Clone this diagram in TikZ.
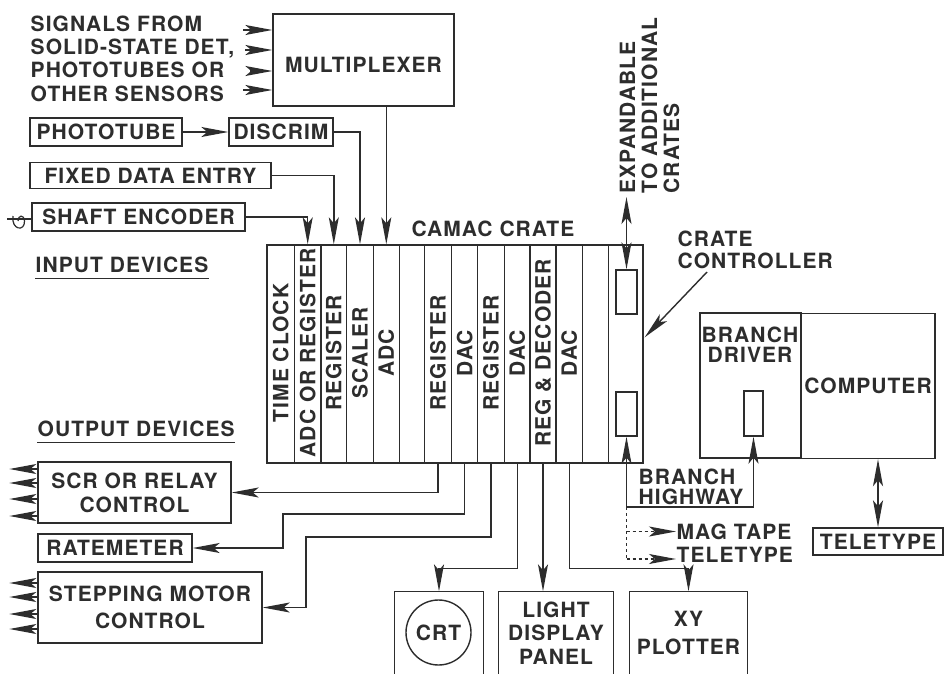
\documentclass[tikz,border=0pt]{standalone}
\usepackage{fontspec}
\setmainfont{TeX Gyre Heros}[LetterSpace=5,UprightFont=*-Bold,BoldFont=*-Bold]
\usetikzlibrary{arrows.meta,calc}
\definecolor{ink}{RGB}{45,45,45}
\newcommand\dfont{\fontsize{21}{23.5}\selectfont}
\newcommand\dfontb{\fontsize{21}{22}\selectfont}
\newcommand\dfontc{\fontsize{21}{20}\selectfont}
\newcommand\dfontd{\fontsize{21}{28}\selectfont}
\begin{document}
\begin{tikzpicture}[x=1pt,y=-1pt,color=ink,line width=1.4pt,
  lbl/.style={inner sep=0pt,font=\dfont},
  box/.style={draw,inner sep=0pt,font=\dfont},
  openbox/.style={inner sep=0pt,font=\dfont},
  arr/.style={-{Stealth[length=27pt,width=10pt,inset=6pt]}},
  dbl/.style={{Stealth[length=27pt,width=10pt,inset=6pt]}-{Stealth[length=27pt,width=10pt,inset=6pt]}},
  darr/.style={-{Stealth[length=27pt,width=10pt,inset=6pt]},dash pattern=on 3pt off 3pt}]
\useasboundingbox (0,0) rectangle (950,674);
\fill[white] (0,0) rectangle (950,674);

% ---- inputs
\node[lbl,anchor=north west,align=left,font=\fontsize{21}{23.3}\selectfont] (sig) at (30,15)
  {SIGNALS FROM\\SOLID-STATE DET,\\PHOTOTUBES OR\\OTHER SENSORS};
\node[box,minimum width=181pt,minimum height=92pt,text height=25pt,text depth=0pt] (mux) at (363.5,60) {MULTIPLEXER};
\foreach \y/\xs in {30/243,50/245,71/250,90/243}
  \draw[arr] (\xs,\y) -- (mux.west |- \xs,\y);

\node[box,minimum width=152pt,minimum height=28pt] (photo) at (106,132) {PHOTOTUBE};
\node[box,minimum width=104pt,minimum height=28pt] (discrim) at (281,132) {DISCRIM};
\node[box,minimum width=241pt,minimum height=26pt] (fixed) at (150.5,175.5) {FIXED DATA ENTRY};
\node[box,minimum width=213pt,minimum height=28pt] (shaft) at (138.5,217) {SHAFT ENCODER};
\draw[arr] (photo.east) -- (discrim.west);
\draw ([yshift=-2pt]shaft.west) -- ++(-24,0);
\draw[line width=1.2pt] (13,216) .. controls (11,230) and (25,232) .. (24.5,221) .. controls (24,214) and (18,215) .. (18,221);

\node[lbl,anchor=north west] (inp) at (35,256) {INPUT DEVICES};
\draw ([yshift=-5pt]inp.south west) -- ([yshift=-5pt]inp.south east);

% ---- crate
\node[box,minimum width=376pt,minimum height=218pt] (crate) at (455,354) {};
\node[lbl] (camac) at (493,228.5) {CAMAC CRATE};
\foreach \x in {294.3,321,346.7,373.3,399.3,424.3,451.7,477.7,504.3,530,556,582.3,608.3}
  \draw (\x,245) -- (\x,463);
\foreach \x/\t/\n in {280.7/TIME CLOCK/s1,307.7/ADC OR REGISTER/s2,333.8/REGISTER/s3,
  360/SCALER/s4,386.3/ADC/s5,438/REGISTER/s7,464.7/DAC/s8,491/REGISTER/s9,
  517.2/DAC/s10,543/REG \& DECODER/s11,569.2/DAC/s12}
  \node[lbl,rotate=90] (\n) at (\x,353) {\t};
\node[box,minimum width=21pt,minimum height=44pt] (cc1) at (626.5,292) {};
\node[box,minimum width=21pt,minimum height=44pt] (cc2) at (626.5,414) {};

\draw[arr] (discrim.east) -| (s4 |- crate.north);
\draw[arr] (fixed.east) -| (s3 |- crate.north);
\draw[arr] (shaft.east) -| (s2 |- crate.north);
\draw[arr] (mux.south -| s5) -- (s5 |- crate.north);

% expandable
\node[lbl,rotate=90,anchor=north west,align=left,font=\dfontb] (exptxt) at (619,194)
  {EXPANDABLE\\TO ADDITIONAL\\CRATES};
\coordinate (exptop) at (626.5,197);
\draw[dbl] (exptop) -- (cc1.north);

% crate controller
\node[lbl,anchor=north west,align=left,font=\dfontb] (ctltxt) at (677,230) {CRATE\\CONTROLLER};
\coordinate (ctlp) at (707,272);
\draw[arr] (ctlp) -- ([yshift=-93pt,xshift=1pt]crate.north east);

% branch driver / computer
\node[box,minimum width=101pt,minimum height=145pt] (bd) at (750.5,385.5) {};
\node[box,minimum width=134pt,minimum height=145pt] (comp) at (868,386) {COMPUTER};
\node[lbl,anchor=north,align=center,font=\dfontc] (bdtxt) at (750,326) {BRANCH\\DRIVER};
\node[box,minimum width=19pt,minimum height=45pt] (bdr) at (753.5,413.5) {};

\coordinate (bh) at (626.5,507);
\draw[dbl] (cc2.south) -- (bh) -| (bdr.south);
\node[lbl,anchor=north west,align=left,font=\dfontc] (bhtxt) at (638,468) {BRANCH\\HIGHWAY};

\node[lbl,anchor=west] (mag) at (676,531.5) {MAG TAPE};
\node[lbl,anchor=west] (tty2) at (676,555) {TELETYPE};
\coordinate (dd) at (626.5,559);
\draw[dash pattern=on 3pt off 3pt] (bh) -- (dd);
\draw[darr] (bh |- mag.west) -- (mag.west);
\draw[darr] (dd) -- (dd -| tty2.west);

\node[box,minimum width=130pt,minimum height=27pt] (tty) at (878,541.5) {TELETYPE};
\draw[dbl] (comp.south -| tty.north) -- (tty.north);

% ---- outputs
\node[lbl,anchor=north west] (out) at (37,420) {OUTPUT DEVICES};
\draw ([yshift=-5pt]out.south west) -- ([yshift=-5pt]out.south east);

\node[box,minimum width=193pt,minimum height=61pt,align=center,font=\fontsize{21}{24}\selectfont] (scr) at (134.5,492.5) {SCR OR RELAY\\CONTROL};
\foreach \d in {23.5,9.5,-6.5,-23.5}
  \draw[arr] ([yshift=\d pt]scr.west) -- ++(-28,0);
\node[box,minimum width=154pt,minimum height=28pt] (rate) at (115,548) {RATEMETER};
\node[box,minimum width=224pt,minimum height=71pt,align=center,font=\fontsize{21}{27}\selectfont] (step) at (150,607.5) {STEPPING MOTOR\\CONTROL};
\foreach \d in {24.5,10.5,-6.5,-21.5}
  \draw[arr] ([yshift=\d pt]step.west) -- ++(-28,0);

\node[openbox,minimum width=88pt,minimum height=82pt] (crt) at (439,633) {};
\node[openbox,minimum width=114pt,minimum height=82pt,align=center] (light) at (556,633) {LIGHT\\DISPLAY\\PANEL};
\node[openbox,minimum width=117pt,minimum height=82pt,align=center,font=\dfontd] (xy) at (688.5,633) {XY\\PLOTTER};
\foreach \n in {crt,light,xy}
  \draw (\n.south west) -- (\n.north west) -- (\n.north east) -- (\n.south east);
\node[draw,circle,minimum size=65pt,inner sep=0pt,font=\dfont] (crtc) at (438.5,632.5) {CRT};

\draw[arr] (s7 |- crate.south) |- (scr.east);
\draw[arr] (s8 |- crate.south) |- (283,514) |- (rate.east);
\draw[arr] (s9 |- crate.south) |- (306,537) |- (step.east);
\draw[arr] (s10 |- crate.south) |- ($(crt.north)+(0,-23)$) -- (crt.north);
\draw[arr] (s11 |- crate.south) -- (s11 |- light.north);
\draw[arr] (s12 |- crate.south) |- ($(xy.north)+(0,-23)$) -- (xy.north);
\end{tikzpicture}
\end{document}
